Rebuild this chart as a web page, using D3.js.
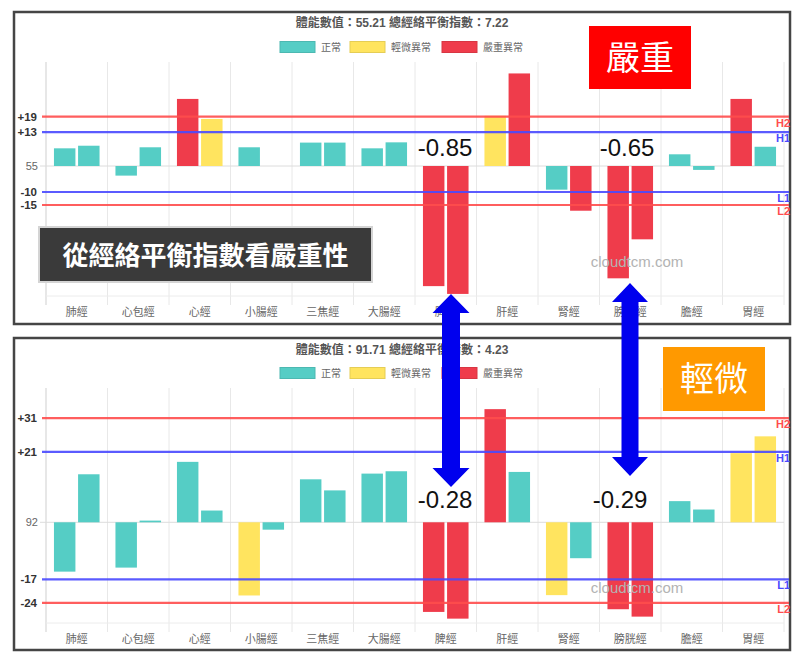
<!DOCTYPE html>
<html><head><meta charset="utf-8">
<script src="https://cdn.jsdelivr.net/npm/d3@7"></script>
<style>
body{margin:0;background:#fff;}
svg{display:block;font-family:"Liberation Sans","Noto Sans CJK TC",sans-serif;}
</style></head>
<body><svg id="c" width="800" height="663"></svg>
<script>
const categories = ['肺經','心包經','心經','小腸經','三焦經','大腸經','脾經','肝經','腎經','膀胱經','膽經','胃經'];
const legendLabels = ['正常','輕微異常','嚴重異常'];
const levelColors = ['#55cdc5','#ffe45f','#ef3c4b'];

// chart 1 (嚴重)
const title1 = '體能數值：55.21 總經絡平衡指數：7.22';
const left1 = [6.8, -3.7, 25.8, 7.2, 9.0, 6.8, -46.2, 19.3, -9.1, -43.2, 4.5, 25.8];
const right1 = [7.8, 7.2, 18.1, 0, 9.0, 9.1, -49.2, 35.6, -17.2, -28.2, -1.5, 7.4];
const leftLevel1 = [0,0,2,0,0,0,2,1,0,2,0,2];
const rightLevel1 = [0,0,1,0,0,0,2,2,2,2,0,0];
const thresholds1 = [19, 13, -10, -15];
const baseLabel1 = '55';
const domain1 = [-50, 40];

// chart 2 (輕微)
const title2 = '體能數值：91.71 總經絡平衡指數：4.23';
const left2 = [-14.7, -13.5, 18.0, -21.8, 12.8, 14.5, -26.7, 33.7, -21.7, -25.9, 6.3, 20.6];
const right2 = [14.3, 0.5, 3.5, -2.2, 9.5, 15.2, -28.7, 15.0, -10.7, -28.1, 3.8, 25.6];
const leftLevel2 = [0,0,0,1,0,0,2,2,1,2,0,1];
const rightLevel2 = [0,0,0,0,0,0,2,0,0,2,0,1];
const thresholds2 = [31, 21, -17, -24];
const baseLabel2 = '92';
const domain2 = [-30, 40];

const thresholdNames = ['H2','H1','L1','L2'];
const thresholdColors = ['#ff4d4d','#4a4aff','#4a4aff','#ff4d4d'];

const svg = d3.select('#c');
svg.append('rect').attr('width',800).attr('height',663).attr('fill','#fff');

function panel(o){
  const g = svg.append('g');
  g.append('rect').attr('x',14).attr('y',o.top).attr('width',776).attr('height',o.h)
    .attr('fill','#fff').attr('stroke','#454545').attr('stroke-width',2.5);

  const x = d3.scaleBand().domain(categories).range([46,784]);
  const sub = d3.scaleBand().domain([0,1]).range([0,x.bandwidth()]).paddingInner(0.11).paddingOuter(0.33);
  const y = d3.scaleLinear().domain(o.domain).range([o.bottom, o.plotTop]);

  // title
  g.append('text').attr('x',402).attr('y',o.titleY).attr('text-anchor','middle')
    .attr('font-size',12).attr('font-weight','bold').attr('fill','#555').text(o.title);
  // legend
  const lx = [280,350,442];
  legendLabels.forEach((t,i)=>{
    g.append('rect').attr('x',lx[i]).attr('y',o.legendY-5.5).attr('width',35).attr('height',11)
      .attr('fill',levelColors[i]).attr('stroke',d3.color(levelColors[i]).darker(0.3)).attr('stroke-width',1);
    g.append('text').attr('x',lx[i]+41).attr('y',o.legendY+3.5).attr('font-size',10).attr('fill','#666').text(t);
  });

  // vertical grid
  const bounds = d3.range(categories.length+1).map(i=> i<categories.length ? x(categories[i]) : 784);
  g.selectAll('.vg').data(bounds).join('line')
    .attr('x1',d=>d).attr('x2',d=>d).attr('y1',o.plotTop).attr('y2',o.bottom+9)
    .attr('stroke',(d,i)=> i===0?'#cfcfcf':'#e8e8e8').attr('stroke-width',1);
  // horizontal grid at bottom and zero
  g.append('line').attr('x1',46).attr('x2',784).attr('y1',o.bottom).attr('y2',o.bottom).attr('stroke','#ececec');
  g.append('line').attr('x1',40).attr('x2',784).attr('y1',y(0)).attr('y2',y(0)).attr('stroke','#dcdcdc');
  g.append('text').attr('x',38).attr('y',y(0)+4).attr('text-anchor','end').attr('font-size',11).attr('fill','#666').text(o.baseLabel);

  // x labels
  g.selectAll('.xl').data(categories).join('text')
    .attr('x',d=>x(d)+x.bandwidth()/2).attr('y',o.bottom+20).attr('text-anchor','middle')
    .attr('font-size',11).attr('fill','#666').text(d=>d);

  // bars
  const bars = [];
  categories.forEach((c,i)=>{
    bars.push({c, s:0, v:o.left[i], lv:o.leftLevel[i]});
    bars.push({c, s:1, v:o.right[i], lv:o.rightLevel[i]});
  });
  g.selectAll('.bar').data(bars.filter(d=>d.v!==0)).join('rect')
    .attr('x',d=>x(d.c)+sub(d.s)).attr('width',sub.bandwidth())
    .attr('y',d=>y(Math.max(0,d.v))).attr('height',d=>Math.abs(y(d.v)-y(0)))
    .attr('fill',d=>levelColors[d.lv]);

  // threshold lines
  o.thresholds.forEach((t,i)=>{
    g.append('line').attr('x1',42).attr('x2',789).attr('y1',y(t)).attr('y2',y(t))
      .attr('stroke',thresholdColors[i]).attr('stroke-width',2.2).attr('opacity',0.9);
    g.append('text').attr('x',37).attr('y',y(t)+4).attr('text-anchor','end').attr('font-size',11.5)
      .attr('font-weight','bold').attr('fill','#333').text((t>0?'+':'')+t);
    g.append('text').attr('x',790).attr('y',y(t)+10).attr('text-anchor','end').attr('font-size',11)
      .attr('font-weight','bold').attr('fill',thresholdColors[i]).text(thresholdNames[i]);
  });

  // watermark
  g.append('text').attr('x',637).attr('y',o.wmY).attr('text-anchor','middle').attr('font-size',15)
    .attr('fill','#b3b3b3').text('cloudtcm.com');

  // index values
  o.notes.forEach(n=>{
    g.append('text').attr('x',n.x).attr('y',o.noteY).attr('text-anchor','middle').attr('font-size',24)
      .attr('fill','#111').text(n.t);
  });
  return g;
}

panel({top:12,h:312,plotTop:62,bottom:296,domain:domain1,title:title1,titleY:27,legendY:47,
  left:left1,right:right1,leftLevel:leftLevel1,rightLevel:rightLevel1,thresholds:thresholds1,
  baseLabel:baseLabel1,wmY:267,noteY:156,notes:[{x:445,t:'-0.85'},{x:627,t:'-0.65'}]});
panel({top:338,h:312,plotTop:388,bottom:623,domain:domain2,title:title2,titleY:354,legendY:373,
  left:left2,right:right2,leftLevel:leftLevel2,rightLevel:rightLevel2,thresholds:thresholds2,
  baseLabel:baseLabel2,wmY:593,noteY:508,notes:[{x:445,t:'-0.28'},{x:620,t:'-0.29'}]});

// badges
svg.append('rect').attr('x',589).attr('y',26).attr('width',102).attr('height',63).attr('fill','#ff0000');
svg.append('text').attr('x',640).attr('y',70).attr('text-anchor','middle').attr('font-size',34)
  .attr('fill','#fff').attr('font-family','"Noto Sans CJK TC",sans-serif').text('嚴重');
svg.append('rect').attr('x',663).attr('y',347).attr('width',102).attr('height',64).attr('fill','#ff9900');
svg.append('text').attr('x',714).attr('y',391).attr('text-anchor','middle').attr('font-size',34)
  .attr('fill','#fff').attr('font-family','"Noto Sans CJK TC",sans-serif').text('輕微');

// caption box
svg.append('rect').attr('x',39).attr('y',227).attr('width',333).attr('height',55)
  .attr('fill','#3a3a3a').attr('stroke','#d4d4d4').attr('stroke-width',2);
svg.append('text').attr('x',205.5).attr('y',265).attr('text-anchor','middle').attr('font-size',26)
  .attr('font-weight','bold').attr('fill','#fff').attr('font-family','"Noto Sans CJK TC",sans-serif')
  .text('從經絡平衡指數看嚴重性');

// double-headed arrows
function arrow(cx, top, bot, sw, hw, hh){
  const pts = [[cx,top],[cx+hw,top+hh],[cx+sw,top+hh],[cx+sw,bot-hh],[cx+hw,bot-hh],[cx,bot],
    [cx-hw,bot-hh],[cx-sw,bot-hh],[cx-sw,top+hh],[cx-hw,top+hh]];
  svg.append('polygon').attr('points',pts.map(p=>p.join(',')).join(' ')).attr('fill','#0000ee');
}
arrow(451,294,487,9,18.5,19);
arrow(630,283,476,8.5,18,19);
</script></body></html>
